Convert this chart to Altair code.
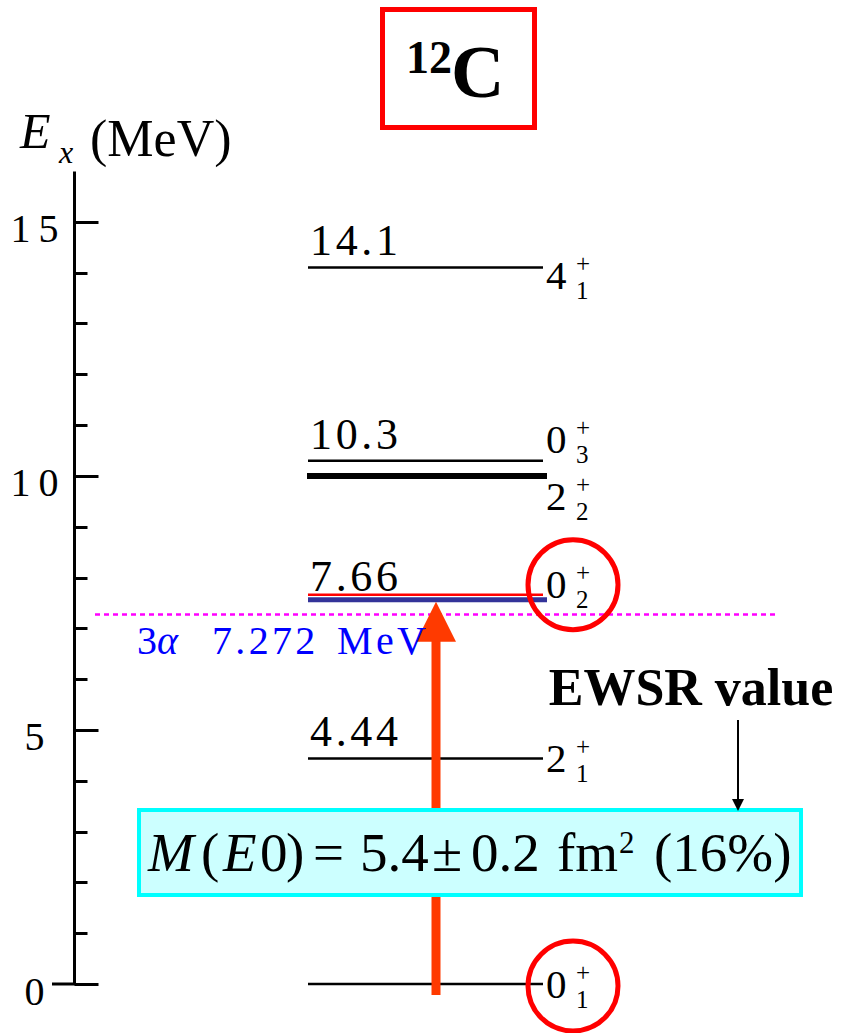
import altair as alt
import pandas as pd

# ---------------- 12C level scheme (energies in MeV) ----------------
LEVEL_E = [0.0, 4.44, 7.66, 10.3, 14.1]
LEVEL_TEXT = ["", "4.44", "7.66", "10.3", "14.1"]
SPIN_J = ["0", "2", "0", "0", "4"]
SPIN_N = ["1", "1", "2", "3", "1"]
BROAD_E = [10.0]            # broad 2+ state drawn as a heavy bar
BROAD_J = ["2"]
BROAD_N = ["2"]
HOYLE_E = [7.66]
THRESHOLD_E = [7.272]
THRESHOLD_VALUE = ["7.272"]
E0_FROM = [0.0]
E0_TO = [7.66]
CIRCLED_E = [0.0, 7.66]
MAJOR_TICKS = [0, 5, 10, 15]
MINOR_TICKS = [1, 2, 3, 4, 6, 7, 8, 9, 11, 12, 13, 14]
E_MAX = 16

# ---------------- layout (pixels) ----------------
W, H = 861, 1033
TOP, BASE = 171, 984              # pixel rows of E_MAX and of E = 0
PX = (BASE - TOP) / E_MAX         # pixels per MeV
AXIS_X = 74
LEVEL_X0, LEVEL_X1, LEVEL_X1_WIDE = 308, 543, 547
LABEL_LIFT = [0, 12, 4, 12, 13]   # energy label baseline above its line
SPIN_DROP = [14, 14, 3, -8, 21]   # spin label baseline below its line
BROAD_DROP = [34]
CIRCLE_SHIFT = [-2, 10]
SERIF = "Liberation Serif"
HAIR = "\u200a"


def ey(py):
    """pixel row -> MeV on the energy scale"""
    return (BASE - py) / PX


def spaced(s):
    return HAIR.join(s)


XS = alt.Scale(domain=[0, W], nice=False, zero=False)
YS = alt.Scale(domain=[0, E_MAX], nice=False, zero=False)


def X(f="x"):
    return alt.X(f"{f}:Q", scale=XS, axis=None)


def Y(f="e", axis=None):
    return alt.Y(f"{f}:Q", scale=YS, axis=axis)


def rules(df, **mk):
    return alt.Chart(df).mark_rule(**mk).encode(
        x=X("x0"), x2=alt.X2("x1:Q"), y=Y("e0"), y2=alt.Y2("e1:Q"))


def hrules(energies, x0, x1, axis=None, **mk):
    df = pd.DataFrame({"e": energies, "x0": x0, "x1": x1})
    return alt.Chart(df).mark_rule(**mk).encode(
        x=X("x0"), x2=alt.X2("x1:Q"), y=Y("e", axis))


def texts(rows, size, align="left", color="black", style="normal", weight="normal",
          baseline="alphabetic"):
    df = pd.DataFrame(rows, columns=["x", "e", "t"])
    return alt.Chart(df).mark_text(
        align=align, baseline=baseline, font=SERIF, fontSize=size,
        fontStyle=style, fontWeight=weight, color=color,
    ).encode(x=X(), y=Y(), text="t:N")


major_axis = alt.Axis(
    orient="right", offset=AXIS_X - W, values=MAJOR_TICKS, title="",
    tickSize=24, tickWidth=3, tickColor="black",
    domainWidth=3, domainColor="black",
    labelFont=SERIF, labelFontSize=40, labelColor="black",
    labelExpr="join(split(datum.label, ''), '\u2009')",
    labelAlign="center", labelBaseline="middle",
    labelPadding=34 - AXIS_X - 24, labelOffset=8,
    labelFlush=False, labelOverlap=False, grid=False,
)
minor_axis = alt.Axis(
    orient="right", offset=AXIS_X - W, values=MINOR_TICKS, title="",
    tickSize=13, tickWidth=3, tickColor="black",
    domain=False, labels=False, grid=False,
)

layers = []

# alpha-decay threshold
layers.append(hrules(THRESHOLD_E, 95, 775, color="#ff00ff", strokeWidth=2.5,
                     strokeDash=[5, 4]))

# ordinary levels (carry the energy axis)
thin_e = [e for e in LEVEL_E if e not in HOYLE_E]
layers.append(hrules(thin_e, LEVEL_X0, LEVEL_X1, axis=major_axis,
                     color="black", strokeWidth=2.5))
# broad 2+ level (carries the minor ticks)
layers.append(hrules(BROAD_E, LEVEL_X0 - 1, LEVEL_X1_WIDE, axis=minor_axis,
                     color="black", strokeWidth=6))
# Hoyle state: blue bar with a red line on top
layers.append(hrules(HOYLE_E, LEVEL_X0, LEVEL_X1_WIDE, color="#333399",
                     strokeWidth=5, yOffset=5))
layers.append(hrules(HOYLE_E, LEVEL_X0, LEVEL_X1, color="#ff0000", strokeWidth=2.5))

# zero tick reaching out to the left of the axis
layers.append(hrules([0.0], 52, AXIS_X + 1, color="black", strokeWidth=3))

# E0 transition arrow shaft
shaft = pd.DataFrame({"x0": [436], "x1": [436],
                      "e0": [E0_FROM[0] - 11 / PX], "e1": [E0_TO[0] - 30 / PX]})
layers.append(rules(shaft, color="#ff3a00", strokeWidth=9, strokeCap="butt"))

# matrix element box
box = pd.DataFrame({"x0": [139], "x1": [801], "e0": [ey(895)], "e1": [ey(810)]})
layers.append(alt.Chart(box).mark_rect(fill="#ccffff", stroke="#00ffff",
                                       strokeWidth=4).encode(
    x=X("x0"), x2=alt.X2("x1:Q"), y=Y("e0"), y2=alt.Y2("e1:Q")))

BOX_B = ey(871)
layers.append(texts([(148, BOX_B, "M"), (223, BOX_B, "E")], 55, style="italic"))
layers.append(texts([(201, BOX_B, "("), (260, BOX_B, "0"), (286, BOX_B, ")"),
                     (313, BOX_B, "="), (360, BOX_B, "5.4"), (432, BOX_B, "±"),
                     (471, BOX_B, "0.2"), (557, BOX_B, "fm"), (654, BOX_B, "(16%)")], 55))
layers.append(texts([(619, ey(853), "2")], 31))

# arrow head of the E0 transition
head = pd.DataFrame({"x": [436], "e": [E0_TO[0] - 27 / PX]})
layers.append(alt.Chart(head).mark_point(
    shape="M0,-1L1,1L-1,1Z", size=1600, filled=True, color="#ff3a00",
    opacity=1, strokeWidth=0).encode(x=X(), y=Y()))

# energy labels above the levels
layers.append(texts([(310, e + lift / PX, spaced(t))
                     for e, t, lift in zip(LEVEL_E, LEVEL_TEXT, LABEL_LIFT) if t], 44))

# spin-parity labels J^+_n
spin_rows, sup_rows, sub_rows = [], [], []
for e, j, n, d in list(zip(LEVEL_E, SPIN_J, SPIN_N, SPIN_DROP)) + \
        list(zip(BROAD_E, BROAD_J, BROAD_N, BROAD_DROP)):
    spin_rows.append((546, e - d / PX, j))
    sup_rows.append((576, e - (d - 17) / PX, "+"))
    sub_rows.append((576, e - (d + 10) / PX, n))
layers.append(texts(spin_rows, 41))
layers.append(texts(sup_rows + sub_rows, 25))

# threshold label
TH_B = ey(654)
layers.append(texts([(137, TH_B, "3"), (212, TH_B, spaced(THRESHOLD_VALUE[0])),
                     (337, TH_B, spaced("MeV"))], 40, color="#0000ff"))
layers.append(texts([(157, TH_B, "α")], 40, color="#0000ff", style="italic"))

# circled states
circ = pd.DataFrame({"x": [573, 573],
                     "e": [e + s / PX for e, s in zip(CIRCLED_E, CIRCLE_SHIFT)]})
layers.append(alt.Chart(circ).mark_point(
    shape="circle", size=90 * 90, filled=False, stroke="#ff0000", strokeWidth=5,
    opacity=1).encode(x=X(), y=Y()))

# EWSR annotation
layers.append(texts([(691, ey(705), "EWSR value")], 52, align="center", weight="bold"))
pointer = pd.DataFrame({"x0": [738], "x1": [738], "e0": [ey(800)], "e1": [ey(720)]})
layers.append(rules(pointer, color="black", strokeWidth=2))
tip = pd.DataFrame({"x": [738], "e": [ey(805)]})
layers.append(alt.Chart(tip).mark_point(
    shape="M-1,-1L1,-1L0,1Z", size=144, filled=True, color="black", opacity=1,
    strokeWidth=0).encode(x=X(), y=Y()))

# nucleus title box
tbox = pd.DataFrame({"x0": [382.5], "x1": [534.5], "e0": [ey(127.5)], "e1": [ey(9.5)]})
layers.append(alt.Chart(tbox).mark_rect(fill="white", stroke="#ff0000",
                                        strokeWidth=5).encode(
    x=X("x0"), x2=alt.X2("x1:Q"), y=Y("e0"), y2=alt.Y2("e1:Q")))
layers.append(texts([(406, ey(73), "12")], 46, weight="bold"))
layers.append(texts([(451, ey(97), "C")], 74, weight="bold"))

# energy axis title E_x (MeV)
layers.append(texts([(20, ey(148), "E")], 50, style="italic"))
layers.append(texts([(59, ey(163), "x")], 32, style="italic"))
layers.append(texts([(90, ey(156), "(MeV)")], 52))

chart = (
    alt.layer(*layers)
    .resolve_axis(y="independent")
    .properties(
        width=W, height=BASE - TOP,
        padding={"left": 0, "right": 0, "top": TOP, "bottom": H - BASE},
        autosize=alt.AutoSizeParams(type="none"),
        background="white",
    )
    .configure_view(strokeWidth=0)
)

chart.save("out.html", embed_options={"renderer": "svg", "actions": False})
